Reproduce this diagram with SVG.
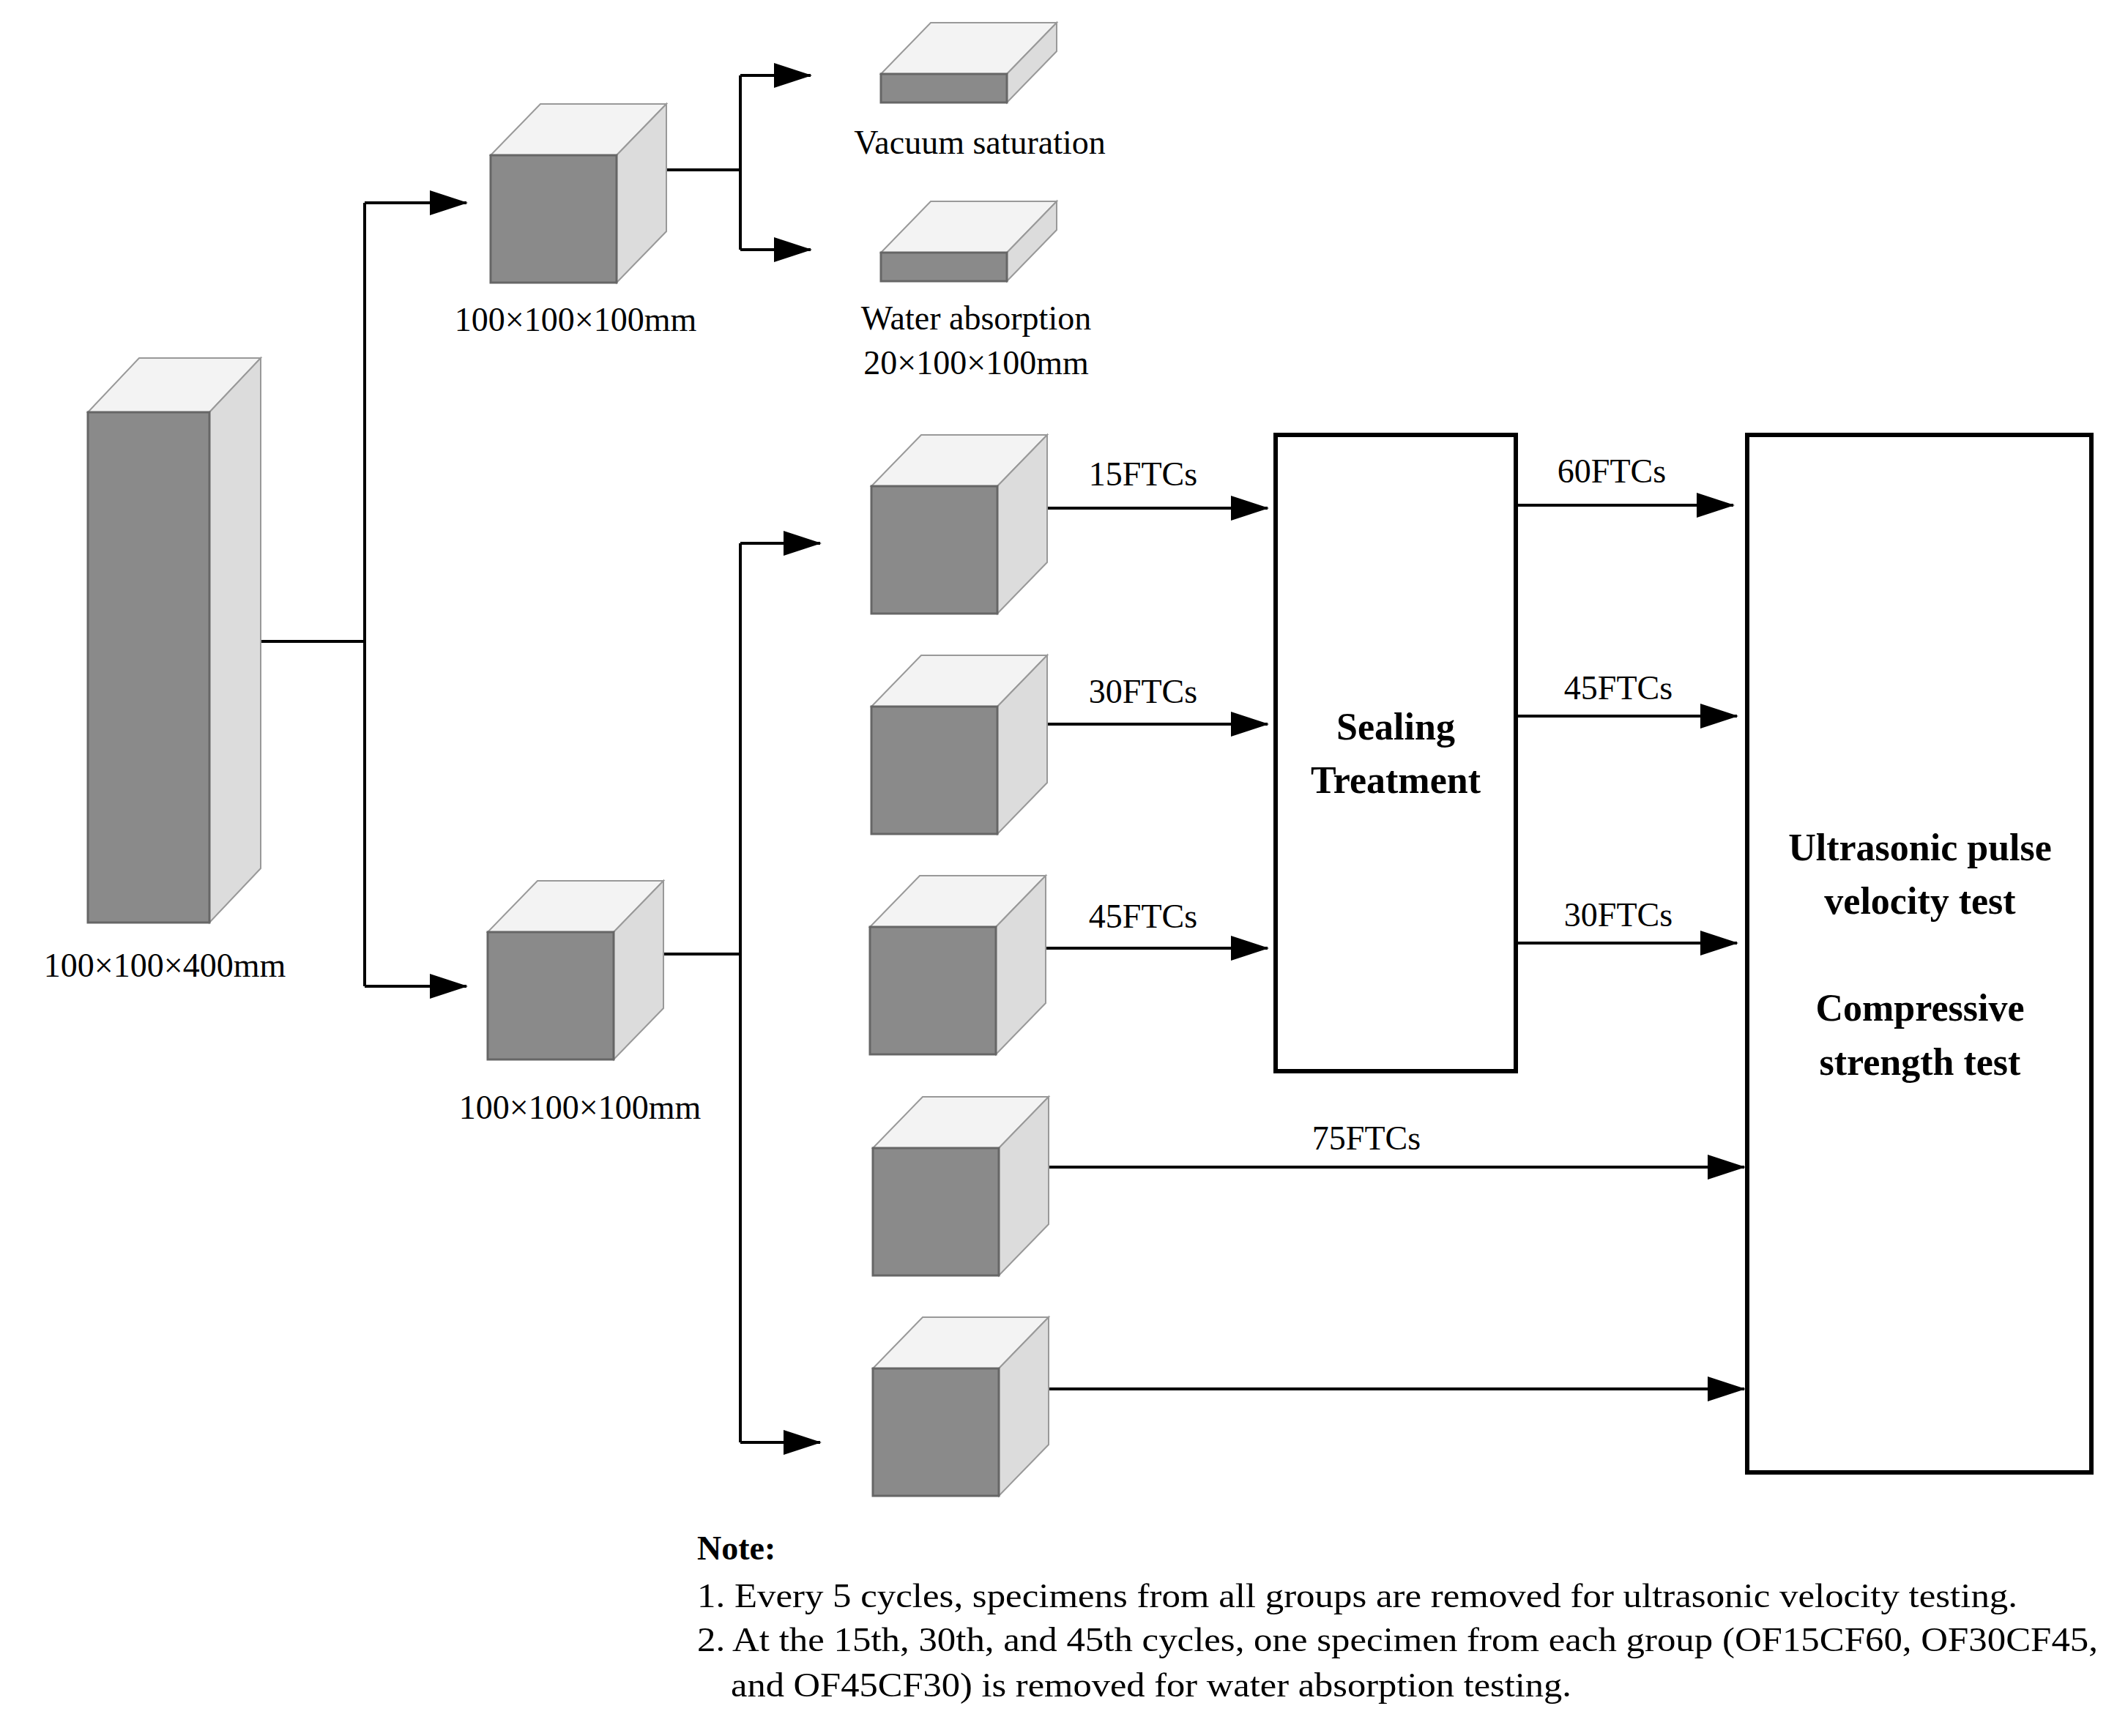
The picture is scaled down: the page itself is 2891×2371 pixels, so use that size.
<svg xmlns="http://www.w3.org/2000/svg" width="2891" height="2371" viewBox="0 0 2891 2371">
<style>
.t{font-family:"Liberation Serif",serif;font-size:46px;fill:#000}
.b{font-family:"Liberation Serif",serif;font-size:52px;font-weight:bold;fill:#000;text-anchor:middle}
.c{text-anchor:middle}
.ln{stroke:#000;stroke-width:4;fill:none}
.bx{stroke:#000;stroke-width:6;fill:#fff}
.fr{fill:#8a8a8a;stroke:#666;stroke-width:3}
.tp{fill:#f3f3f3;stroke:#999;stroke-width:2}
.sd{fill:#dcdcdc;stroke:#999;stroke-width:2}
</style>
<defs>
<marker id="ar" markerUnits="userSpaceOnUse" markerWidth="52" markerHeight="34" refX="50" refY="17" orient="auto"><path d="M0,0 L52,17 L0,34 Z" fill="#000"/></marker>
<g id="cube"><path class="tp" d="M0,0 L68,-70 L240,-70 L172,0 Z"/><path class="sd" d="M172,0 L240,-70 L240,104 L172,174 Z"/><rect class="fr" x="0" y="0" width="172" height="174"/></g>
<g id="slab"><path class="tp" d="M0,0 L68,-70 L240,-70 L172,0 Z"/><path class="sd" d="M172,0 L240,-70 L240,-31 L172,39 Z"/><rect class="fr" x="0" y="0" width="172" height="39"/></g>
</defs>
<rect width="2891" height="2371" fill="#fff"/>
<g id="connectors">
<path class="ln" d="M356,876 H498 M498,277 V1347"/>
<path class="ln" marker-end="url(#ar)" d="M498,277 H637"/>
<path class="ln" marker-end="url(#ar)" d="M498,1347 H637"/>
<path class="ln" d="M908,232 H1011 M1011,103 V341"/>
<path class="ln" marker-end="url(#ar)" d="M1011,103 H1107"/>
<path class="ln" marker-end="url(#ar)" d="M1011,341 H1107"/>
<path class="ln" d="M906,1303 H1011 M1011,742 V1970"/>
<path class="ln" marker-end="url(#ar)" d="M1011,742 H1120"/>
<path class="ln" marker-end="url(#ar)" d="M1011,1970 H1120"/>
<path class="ln" marker-end="url(#ar)" d="M1428,694 H1731"/>
<path class="ln" marker-end="url(#ar)" d="M1428,989 H1731"/>
<path class="ln" marker-end="url(#ar)" d="M1428,1295 H1731"/>
<path class="ln" marker-end="url(#ar)" d="M2070,690 H2367"/>
<path class="ln" marker-end="url(#ar)" d="M2070,978 H2372"/>
<path class="ln" marker-end="url(#ar)" d="M2070,1288 H2372"/>
<path class="ln" marker-end="url(#ar)" d="M1430,1594 H2382"/>
<path class="ln" marker-end="url(#ar)" d="M1430,1897 H2382"/>
<text class="t c" x="1561" y="663">15FTCs</text>
<text class="t c" x="1561" y="960">30FTCs</text>
<text class="t c" x="1561" y="1267">45FTCs</text>
<text class="t c" x="2201" y="659">60FTCs</text>
<text class="t c" x="2210" y="955">45FTCs</text>
<text class="t c" x="2210" y="1265">30FTCs</text>
<text class="t c" x="1866" y="1570">75FTCs</text>
</g>
<g id="column">
<path class="tp" d="M120,563 L190,489 L356,489 L286,563 Z"/>
<path class="sd" d="M286,563 L356,489 L356,1186 L286,1260 Z"/>
<rect class="fr" x="120" y="563" width="166" height="697"/>
<text class="t c" x="225" y="1334">100×100×400mm</text>
</g>
<g id="cube-top"><use href="#cube" x="670" y="212"/><text class="t c" x="786" y="452">100×100×100mm</text></g>
<g id="cube-bottom"><use href="#cube" x="666" y="1273"/><text class="t c" x="792" y="1528">100×100×100mm</text></g>
<g id="slab-vacuum"><use href="#slab" x="1203" y="101"/><text class="t c" x="1338" y="210">Vacuum saturation</text></g>
<g id="slab-water"><use href="#slab" x="1203" y="345"/><text class="t c" x="1333" y="450">Water absorption</text><text class="t c" x="1333" y="511">20×100×100mm</text></g>
<g id="cube-15"><use href="#cube" x="1190" y="664"/></g>
<g id="cube-30"><use href="#cube" x="1190" y="965"/></g>
<g id="cube-45"><use href="#cube" x="1188" y="1266"/></g>
<g id="cube-75"><use href="#cube" x="1192" y="1568"/></g>
<g id="cube-ref"><use href="#cube" x="1192" y="1869"/></g>
<g id="sealing"><rect class="bx" x="1742" y="594" width="328" height="869"/><text class="b" x="1906" y="1010">Sealing</text><text class="b" x="1906" y="1083">Treatment</text></g>
<g id="tests"><rect class="bx" x="2386" y="594" width="470" height="1417"/>
<text class="b" x="2622" y="1175">Ultrasonic pulse</text><text class="b" x="2622" y="1248">velocity test</text>
<text class="b" x="2622" y="1394">Compressive</text><text class="b" x="2622" y="1468">strength test</text></g>
<g id="note">
<text class="t" x="952" y="2130" font-weight="bold">Note:</text>
<text class="t" x="952" y="2195" textLength="1803" lengthAdjust="spacingAndGlyphs">1. Every 5 cycles, specimens from all groups are removed for ultrasonic velocity testing.</text>
<text class="t" x="952" y="2255" textLength="1913" lengthAdjust="spacingAndGlyphs">2. At the 15th, 30th, and 45th cycles, one specimen from each group (OF15CF60, OF30CF45,</text>
<text class="t" x="998" y="2317" textLength="1148" lengthAdjust="spacingAndGlyphs">and OF45CF30) is removed for water absorption testing.</text>
</g>
</svg>
